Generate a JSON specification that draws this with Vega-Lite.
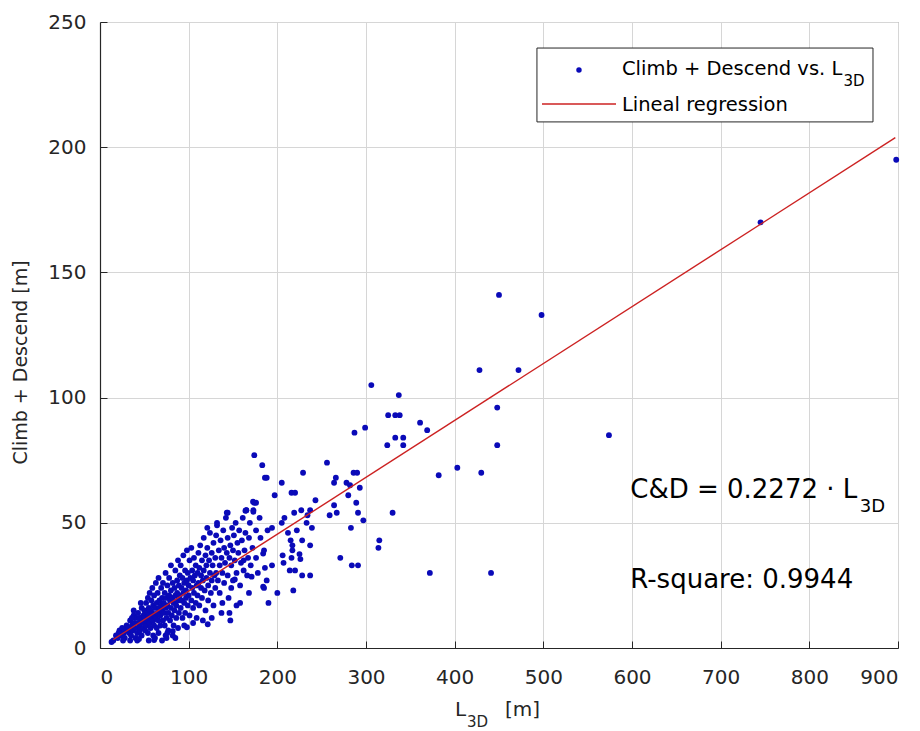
{
  "$schema": "https://vega.github.io/schema/vega-lite/v6.json",
  "width": 798,
  "height": 626,
  "autosize": {"type": "none"},
  "padding": {"left": 100, "top": 22, "right": 22, "bottom": 83},
  "background": "white",
  "config": {
    "font": "DejaVu Sans",
    "view": {"stroke": "#7f7f7f", "strokeWidth": 1},
    "axis": {
      "grid": true,
      "gridColor": "#d6d6d6",
      "gridWidth": 1,
      "domainColor": "#262626",
      "domainWidth": 1.2,
      "tickColor": "#262626",
      "tickSize": -7,
      "labelColor": "#262626",
      "labelFontSize": 20,
      "labelFont": "DejaVu Sans",
      "titleFont": "DejaVu Sans",
      "titleFontWeight": "normal",
      "titleColor": "#262626"
    }
  },
  "datasets": {
    "pts": [
      {"l3d":13,"cd":2.4},{"l3d":15,"cd":3},{"l3d":18,"cd":5},{"l3d":20,"cd":4},{"l3d":22,"cd":7},{"l3d":24,"cd":5},{"l3d":25,"cd":8},{"l3d":27,"cd":6},{"l3d":28,"cd":4},{"l3d":30,"cd":9},{"l3d":30,"cd":7},{"l3d":26,"cd":3},{"l3d":21,"cd":6},
      {"l3d":32,"cd":8},{"l3d":33,"cd":6},{"l3d":34,"cd":11},{"l3d":35,"cd":5},{"l3d":36,"cd":9},{"l3d":37,"cd":7},{"l3d":38,"cd":13},{"l3d":39,"cd":10},{"l3d":40,"cd":8},{"l3d":40,"cd":4},{"l3d":41,"cd":12},{"l3d":42,"cd":6},{"l3d":43,"cd":14},{"l3d":44,"cd":10},{"l3d":45,"cd":9},{"l3d":45,"cd":7},{"l3d":46,"cd":12},{"l3d":47,"cd":16},{"l3d":47,"cd":5},{"l3d":48,"cd":11},{"l3d":49,"cd":8},{"l3d":49,"cd":13},{"l3d":50,"cd":10},{"l3d":50,"cd":15},{"l3d":34,"cd":3},{"l3d":42,"cd":3},{"l3d":46,"cd":18},{"l3d":38,"cd":15},{"l3d":44,"cd":12},{"l3d":36,"cd":12},{"l3d":44,"cd":3.6},
      {"l3d":51,"cd":7},{"l3d":51,"cd":12},{"l3d":52,"cd":18},{"l3d":52,"cd":9},{"l3d":53,"cd":14},{"l3d":53,"cd":11},{"l3d":54,"cd":20},{"l3d":54,"cd":6},{"l3d":55,"cd":13},{"l3d":55,"cd":16},{"l3d":56,"cd":10},{"l3d":56,"cd":22},{"l3d":57,"cd":8},{"l3d":57,"cd":15},{"l3d":58,"cd":12},{"l3d":58,"cd":19},{"l3d":59,"cd":14},{"l3d":59,"cd":24},{"l3d":60,"cd":11},{"l3d":60,"cd":17},{"l3d":60,"cd":5},{"l3d":61,"cd":9},{"l3d":61,"cd":21},{"l3d":62,"cd":13},{"l3d":62,"cd":16},{"l3d":63,"cd":26},{"l3d":63,"cd":12},{"l3d":64,"cd":18},{"l3d":64,"cd":8},{"l3d":65,"cd":14},{"l3d":65,"cd":22},{"l3d":66,"cd":11},{"l3d":66,"cd":28},{"l3d":67,"cd":16},{"l3d":67,"cd":19},{"l3d":68,"cd":13},{"l3d":68,"cd":9},{"l3d":69,"cd":24},{"l3d":69,"cd":17},{"l3d":70,"cd":15},{"l3d":70,"cd":20},{"l3d":70,"cd":3},{"l3d":55,"cd":3},{"l3d":62,"cd":4},{"l3d":66,"cd":6},{"l3d":61,"cd":3.2},
      {"l3d":71,"cd":11},{"l3d":71,"cd":26},{"l3d":72,"cd":18},{"l3d":72,"cd":14},{"l3d":73,"cd":22},{"l3d":73,"cd":9},{"l3d":74,"cd":30},{"l3d":74,"cd":16},{"l3d":75,"cd":12},{"l3d":75,"cd":20},{"l3d":76,"cd":25},{"l3d":76,"cd":17},{"l3d":77,"cd":14},{"l3d":77,"cd":7},{"l3d":78,"cd":21},{"l3d":78,"cd":28},{"l3d":79,"cd":19},{"l3d":79,"cd":11},{"l3d":80,"cd":16},{"l3d":80,"cd":23},{"l3d":80,"cd":33},{"l3d":81,"cd":13},{"l3d":82,"cd":20},{"l3d":82,"cd":26},{"l3d":83,"cd":18},{"l3d":83,"cd":9},{"l3d":84,"cd":24},{"l3d":84,"cd":15},{"l3d":85,"cd":31},{"l3d":85,"cd":21},{"l3d":86,"cd":17},{"l3d":86,"cd":12},{"l3d":87,"cd":27},{"l3d":87,"cd":22},{"l3d":88,"cd":19},{"l3d":88,"cd":35},{"l3d":89,"cd":14},{"l3d":89,"cd":25},{"l3d":90,"cd":21},{"l3d":90,"cd":29},{"l3d":74,"cd":5},{"l3d":82,"cd":5},{"l3d":76,"cd":6},{"l3d":88,"cd":8},{"l3d":85,"cd":4},{"l3d":75,"cd":4},{"l3d":82,"cd":6.7},
      {"l3d":91,"cd":16},{"l3d":91,"cd":33},{"l3d":92,"cd":24},{"l3d":92,"cd":19},{"l3d":93,"cd":28},{"l3d":93,"cd":12},{"l3d":94,"cd":22},{"l3d":94,"cd":37},{"l3d":95,"cd":18},{"l3d":95,"cd":26},{"l3d":96,"cd":31},{"l3d":96,"cd":14},{"l3d":97,"cd":23},{"l3d":97,"cd":20},{"l3d":98,"cd":27},{"l3d":98,"cd":39},{"l3d":99,"cd":17},{"l3d":99,"cd":30},{"l3d":100,"cd":25},{"l3d":100,"cd":21},{"l3d":101,"cd":35},{"l3d":101,"cd":13},{"l3d":102,"cd":28},{"l3d":103,"cd":19},{"l3d":103,"cd":40},{"l3d":104,"cd":24},{"l3d":104,"cd":31},{"l3d":105,"cd":16},{"l3d":105,"cd":27},{"l3d":106,"cd":22},{"l3d":106,"cd":36},{"l3d":107,"cd":29},{"l3d":108,"cd":18},{"l3d":108,"cd":33},{"l3d":109,"cd":25},{"l3d":109,"cd":12},{"l3d":110,"cd":30},{"l3d":110,"cd":21},{"l3d":95,"cd":9},{"l3d":105,"cd":10},{"l3d":98,"cd":8.3},
      {"l3d":111,"cd":38},{"l3d":111,"cd":26},{"l3d":112,"cd":17},{"l3d":112,"cd":32},{"l3d":113,"cd":41},{"l3d":114,"cd":24},{"l3d":114,"cd":29},{"l3d":115,"cd":35},{"l3d":115,"cd":20},{"l3d":116,"cd":27},{"l3d":117,"cd":44},{"l3d":117,"cd":31},{"l3d":118,"cd":23},{"l3d":119,"cd":37},{"l3d":119,"cd":15},{"l3d":120,"cd":28},{"l3d":120,"cd":33},{"l3d":121,"cd":40},{"l3d":122,"cd":25},{"l3d":122,"cd":19},{"l3d":123,"cd":35},{"l3d":124,"cd":30},{"l3d":124,"cd":46},{"l3d":125,"cd":22},{"l3d":126,"cd":38},{"l3d":126,"cd":27},{"l3d":127,"cd":33},{"l3d":128,"cd":42},{"l3d":128,"cd":17},{"l3d":129,"cd":29},{"l3d":130,"cd":36},{"l3d":130,"cd":24},{"l3d":116,"cd":11},{"l3d":126,"cd":12},{"l3d":121,"cd":48},{"l3d":121.5,"cd":9.5},
      {"l3d":131,"cd":45},{"l3d":131,"cd":30},{"l3d":132,"cd":50},{"l3d":132,"cd":49},{"l3d":133,"cd":27},{"l3d":134,"cd":39},{"l3d":135,"cd":33},{"l3d":135,"cd":22},{"l3d":136,"cd":43},{"l3d":137,"cd":36},{"l3d":138,"cd":30},{"l3d":139,"cd":47},{"l3d":140,"cd":26},{"l3d":140,"cd":40},{"l3d":141,"cd":34},{"l3d":142,"cd":52},{"l3d":143,"cd":38},{"l3d":144,"cd":29},{"l3d":144,"cd":44},{"l3d":145,"cd":20},{"l3d":146,"cd":36},{"l3d":147,"cd":41},{"l3d":148,"cd":33},{"l3d":149,"cd":48},{"l3d":150,"cd":39},{"l3d":150,"cd":27},{"l3d":138,"cd":18},{"l3d":146,"cd":14},{"l3d":143,"cd":54},{"l3d":148,"cd":24},{"l3d":137,"cd":14},{"l3d":147,"cd":11},
      {"l3d":151,"cd":45},{"l3d":152,"cd":35},{"l3d":153,"cd":50},{"l3d":154,"cd":30},{"l3d":155,"cd":42},{"l3d":156,"cd":38},{"l3d":157,"cd":47},{"l3d":158,"cd":25},{"l3d":159,"cd":34},{"l3d":160,"cd":43},{"l3d":161,"cd":52},{"l3d":162,"cd":31},{"l3d":163,"cd":39},{"l3d":164,"cd":46},{"l3d":165,"cd":55},{"l3d":166,"cd":29},{"l3d":167,"cd":36},{"l3d":168,"cd":44},{"l3d":169,"cd":50},{"l3d":170,"cd":33},{"l3d":172,"cd":40},{"l3d":173,"cd":55},{"l3d":174,"cd":58},{"l3d":174,"cd":77},{"l3d":176,"cd":47},{"l3d":178,"cd":30},{"l3d":158,"cd":18},{"l3d":168,"cd":22},{"l3d":176,"cd":36},{"l3d":180,"cd":52},{"l3d":154,"cd":17},{"l3d":184,"cd":24.5},{"l3d":171,"cd":28.5},{"l3d":152,"cd":27.4},{"l3d":162,"cd":35},{"l3d":184,"cd":37.7},{"l3d":164,"cd":54.8},{"l3d":173,"cd":54.4},{"l3d":186,"cd":68},
      {"l3d":898,"cd":195},{"l3d":745,"cd":170},{"l3d":450,"cd":141},{"l3d":498,"cd":133},{"l3d":472,"cd":111},{"l3d":428,"cd":111},{"l3d":448,"cd":96},{"l3d":448,"cd":81},{"l3d":574,"cd":85},{"l3d":430,"cd":70},{"l3d":403,"cd":72},{"l3d":382,"cd":69},{"l3d":372,"cd":30},{"l3d":441,"cd":30},
      {"l3d":306,"cd":105},{"l3d":337,"cd":101},{"l3d":325,"cd":93},{"l3d":333,"cd":93},{"l3d":338,"cd":93},{"l3d":361,"cd":90},{"l3d":369,"cd":87},{"l3d":299,"cd":88},{"l3d":287,"cd":86},{"l3d":333,"cd":84},{"l3d":342,"cd":84},{"l3d":324,"cd":81},{"l3d":342,"cd":81},{"l3d":256,"cd":74},{"l3d":229,"cd":70},{"l3d":286,"cd":70},{"l3d":290,"cd":70},{"l3d":266,"cd":68},{"l3d":205,"cd":66},{"l3d":188,"cd":68},{"l3d":183,"cd":73},{"l3d":197,"cd":61},{"l3d":216,"cd":62},{"l3d":220,"cd":62},{"l3d":264,"cd":66},{"l3d":278,"cd":66},{"l3d":282,"cd":65},{"l3d":293,"cd":64},{"l3d":280,"cd":61},{"l3d":289,"cd":58},{"l3d":243,"cd":59},{"l3d":264,"cd":57},{"l3d":267,"cd":54},{"l3d":259,"cd":53},{"l3d":291,"cd":54},{"l3d":297,"cd":51},{"l3d":283,"cd":48},{"l3d":219,"cd":54},{"l3d":227,"cd":55},{"l3d":237,"cd":55},{"l3d":234,"cd":53},{"l3d":233,"cd":50},{"l3d":239,"cd":48},{"l3d":208,"cd":52},{"l3d":205,"cd":50},{"l3d":194,"cd":48},{"l3d":189,"cd":47},{"l3d":222,"cd":47},{"l3d":212,"cd":46},{"l3d":215,"cd":43},{"l3d":217,"cd":41},{"l3d":217,"cd":39},{"l3d":237,"cd":41},{"l3d":228,"cd":43},{"l3d":206,"cd":37},{"l3d":216,"cd":36},{"l3d":225,"cd":37.5},{"l3d":226,"cd":35.5},{"l3d":207,"cd":34},{"l3d":214,"cd":31},{"l3d":220,"cd":31},{"l3d":228,"cd":29},{"l3d":237,"cd":29},{"l3d":218,"cd":23},{"l3d":271,"cd":36},{"l3d":284,"cd":33},{"l3d":291,"cd":33},{"l3d":315,"cd":43},{"l3d":314,"cd":40},{"l3d":330,"cd":54},{"l3d":185,"cd":39},{"l3d":186,"cd":32},{"l3d":194,"cd":33},{"l3d":188,"cd":27},{"l3d":185,"cd":24},{"l3d":181,"cd":44},{"l3d":200,"cd":22},{"l3d":190,"cd":18},
      {"l3d":176,"cd":58},{"l3d":165,"cd":55},{"l3d":144,"cd":54},{"l3d":172.6,"cd":58.4}
    ],
    "fit": [
      {"l3d": 15, "cd": 3.4},
      {"l3d": 897, "cd": 203.8}
    ]
  },
  "layer": [
    {
      "data": {"name": "pts"},
      "mark": {"type": "point", "filled": true, "size": 34, "opacity": 1, "shape": "circle", "color": "#0a0ab8"},
      "encoding": {
        "x": {
          "field": "l3d", "type": "quantitative",
          "scale": {"domain": [0, 900], "nice": false},
          "axis": {"values": [0,100,200,300,400,500,600,700,800,900], "title": null, "labelPadding": 26, "labelBaseline": "top"}
        },
        "y": {
          "field": "cd", "type": "quantitative",
          "scale": {"domain": [0, 250], "nice": false},
          "axis": {"values": [0,50,100,150,200,250], "title": "Climb + Descend [m]", "titleFontSize": 19, "titlePadding": 17, "titleY": 340, "labelPadding": 21}
        }
      }
    },
    {
      "data": {"name": "fit"},
      "mark": {"type": "line", "strokeWidth": 1.4, "color": "#cc2222"},
      "encoding": {
        "x": {"field": "l3d", "type": "quantitative"},
        "y": {"field": "cd", "type": "quantitative"}
      }
    },
    {
      "data": {"values": [{"label": "legend box"}]},
      "mark": {"type": "rect", "fill": "white", "stroke": "#262626", "strokeWidth": 1},
      "encoding": {"x": {"datum": 492.8}, "x2": {"datum": 871.8}, "y": {"datum": 239.6}, "y2": {"datum": 210.1}}
    },
    {
      "data": {"values": [{"label": "Climb + Descend vs. L"}]},
      "mark": {"type": "point", "filled": true, "size": 30, "opacity": 1, "shape": "circle", "color": "#0a0ab8"},
      "encoding": {"x": {"datum": 540.2}, "y": {"datum": 230.8}}
    },
    {
      "data": {"values": [{"label": "Lineal regression"}]},
      "mark": {"type": "rule", "strokeWidth": 1.5, "color": "#cc2222"},
      "encoding": {"x": {"datum": 498.5}, "x2": {"datum": 582.0}, "y": {"datum": 217.3}}
    },
    {
      "data": {"values": [{"label": "Climb + Descend vs. L"}]},
      "mark": {"type": "text", "fontSize": 19.5, "align": "left", "baseline": "alphabetic", "color": "#000000"},
      "encoding": {"x": {"datum": 588.7}, "y": {"datum": 228.8}, "text": {"field": "label"}}
    },
    {
      "data": {"values": [{"label": "3D"}]},
      "mark": {"type": "text", "fontSize": 15, "align": "left", "baseline": "alphabetic", "color": "#000000"},
      "encoding": {"x": {"datum": 838.5}, "y": {"datum": 224.4}, "text": {"field": "label"}}
    },
    {
      "data": {"values": [{"label": "Lineal regression"}]},
      "mark": {"type": "text", "fontSize": 19.5, "align": "left", "baseline": "alphabetic", "color": "#000000"},
      "encoding": {"x": {"datum": 588.7}, "y": {"datum": 214.5}, "text": {"field": "label"}}
    },
    {
      "data": {"values": [{"label": "C&D = 0.2272 · L"}]},
      "mark": {"type": "text", "fontSize": 26, "align": "left", "baseline": "alphabetic", "color": "#000000"},
      "encoding": {"x": {"datum": 598}, "y": {"datum": 59.9}, "text": {"field": "label"}}
    },
    {
      "data": {"values": [{"label": "3D"}]},
      "mark": {"type": "text", "fontSize": 18, "align": "left", "baseline": "alphabetic", "color": "#000000"},
      "encoding": {"x": {"datum": 857}, "y": {"datum": 54.3}, "text": {"field": "label"}}
    },
    {
      "data": {"values": [{"label": "R-square: 0.9944"}]},
      "mark": {"type": "text", "fontSize": 26, "align": "left", "baseline": "alphabetic", "color": "#000000"},
      "encoding": {"x": {"datum": 598}, "y": {"datum": 24}, "text": {"field": "label"}}
    },
    {
      "data": {"values": [{"label": "L"}]},
      "mark": {"type": "text", "fontSize": 20, "align": "left", "baseline": "alphabetic", "color": "#262626"},
      "encoding": {"x": {"datum": 400.4}, "y": {"datum": -27.2}, "text": {"field": "label"}}
    },
    {
      "data": {"values": [{"label": "3D"}]},
      "mark": {"type": "text", "fontSize": 15, "align": "left", "baseline": "alphabetic", "color": "#262626"},
      "encoding": {"x": {"datum": 413.9}, "y": {"datum": -31.5}, "text": {"field": "label"}}
    },
    {
      "data": {"values": [{"label": "[m]"}]},
      "mark": {"type": "text", "fontSize": 20, "align": "left", "baseline": "alphabetic", "color": "#262626"},
      "encoding": {"x": {"datum": 456.7}, "y": {"datum": -27.2}, "text": {"field": "label"}}
    }
  ]
}
